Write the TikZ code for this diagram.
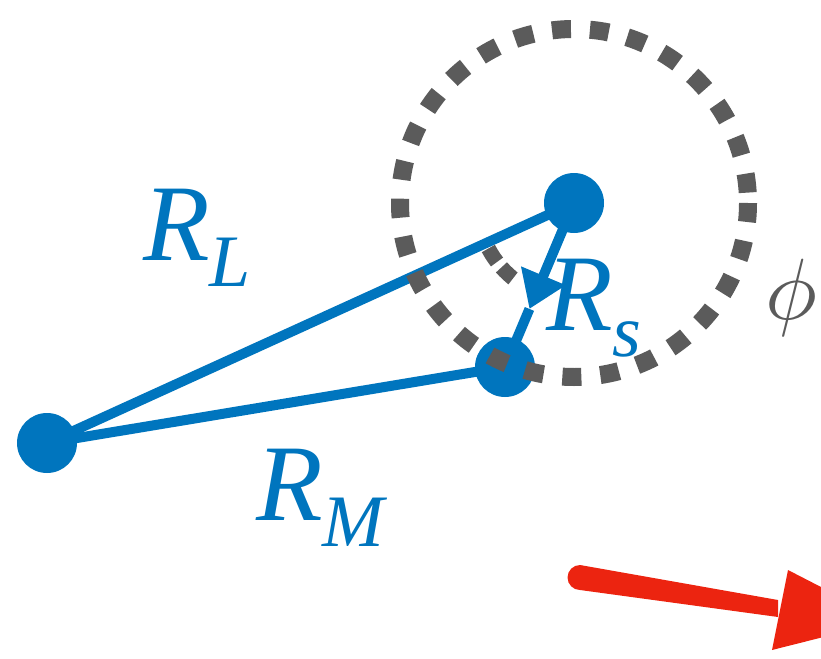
\documentclass[tikz,border=0pt]{standalone}
\usepackage{graphicx}
\usepackage{fontspec}
\setmainfont{Liberation Serif}
\usetikzlibrary{arrows.meta, calc}

\definecolor{vecblue}{RGB}{0,117,190}
\definecolor{ringgray}{RGB}{91,91,91}
\definecolor{brushred}{RGB}{236,36,16}

% nhan R voi chi so duoi
\newcommand{\Rlab}[1]{\fontsize{109}{120}\selectfont\itshape R\raisebox{-26pt}{\fontsize{74}{80}\selectfont #1}}

\begin{document}
\begin{tikzpicture}[x=1pt, y=-1pt, >=stealth,
    dot/.style={circle, fill=vecblue, minimum size=60pt, inner sep=0pt},
    vec/.style={draw=vecblue, line width=10pt},
    lbl/.style={text=vecblue, inner sep=0pt, anchor=base west}]
        \clip (0,0) rectangle (821,658);

        % Cac diem
        \coordinate (L) at (47,443);
        \coordinate (T) at (574,203);
        \coordinate (S) at (505,367);
        \coordinate (mid) at ($(T)!0.646!(S)$);

        % Cac doan thang
        \draw[vec] (L) -- (T);
        \draw[vec] (L) -- (S);
        \draw[vec, -{Triangle[length=36pt, width=46pt]}] (T) -- (mid);
        \draw[vec] (mid) -- (S);

        % Cac cham tron
        \node[dot] (Ldot) at (L) {};
        \node[dot] (Tdot) at (T) {};
        \node[dot] (Sdot) at (S) {};

        % Duong tron net dut va goc
        \draw[ringgray, line width=18pt, dash pattern=on 19pt off 19pt] (Tdot.center) circle[radius=174];
        \draw[ringgray, line width=15pt, dash pattern=on 16pt off 7pt] (Tdot.center) ++(152:97) arc[start angle=152, end angle=126, radius=97];

        % Nhan
        \node[lbl] (rl) at (143,260) {\Rlab{L}};
        \node[lbl] (rm) at (256,520) {\Rlab{M}};
        \node[lbl] (rs) at (546,330) {\Rlab{s}};
        \node[text=ringgray, inner sep=0pt] (phi) at (791,298) {\scalebox{8.7}{$\phi$}};

        % Mui ten do
        \fill[brushred] (580,565) -- (778,600) -- (778,617) -- (580,590) arc[start angle=90, end angle=270, radius=12.5];
        \fill[brushred] (788,570) -- (887,621) -- (772,650) -- cycle;
    \end{tikzpicture}
\end{document}
